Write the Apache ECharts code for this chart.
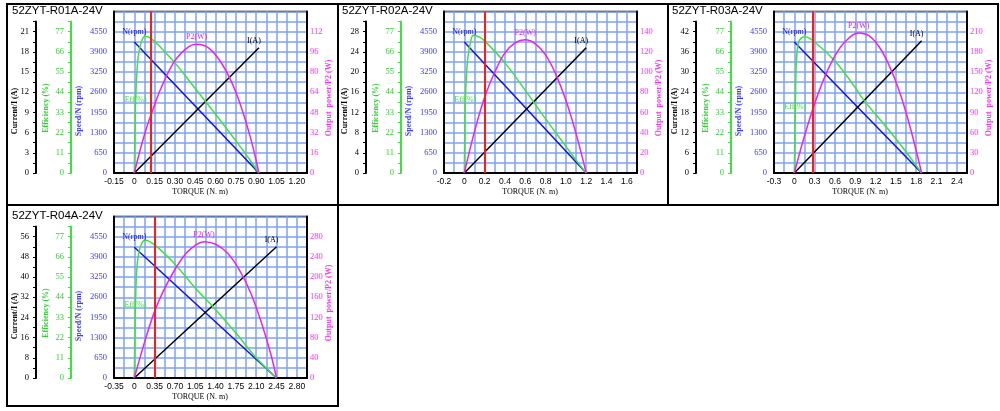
<!DOCTYPE html>
<html>
<head>
<meta charset="utf-8">
<title>52ZYT-24V motor curves</title>
<script src="https://cdn.jsdelivr.net/npm/echarts@6/dist/echarts.min.js"></script>
<style>
  html, body { margin: 0; padding: 0; background: #fff; }
  #page { position: relative; width: 1000px; height: 411px; overflow: hidden; }
  .box { position: absolute; box-sizing: border-box; border: 2px solid #000; }
  .chart { position: absolute; width: 340px; height: 206px; }
</style>
</head>
<body>
<div id="page">
  <div class="box" style="left:6px;top:3px;width:333px;height:203px"></div>
  <div class="box" style="left:337px;top:3px;width:332px;height:203px"></div>
  <div class="box" style="left:667px;top:3px;width:332px;height:203px"></div>
  <div class="box" style="left:6px;top:204px;width:333px;height:203px"></div>
  <div id="c0" class="chart" style="left:0;top:0"></div>
  <div id="c1" class="chart" style="left:330px;top:0"></div>
  <div id="c2" class="chart" style="left:660px;top:0"></div>
  <div id="c3" class="chart" style="left:0;top:205px"></div>
</div>
<script>
// values: [torque N.m, value]
const panelNames = ['52ZYT-R01A-24V', '52ZYT-R02A-24V', '52ZYT-R03A-24V', '52ZYT-R04A-24V'];
const torqueSteps = [0.15, 0.2, 0.3, 0.35];
const torqueDecimals = [2, 1, 1, 2];
const currentSteps = [3, 4, 6, 8];
const powerSteps = [16, 20, 30, 40];
const speedStep = 650;
const effStep = 11;
const ratedTorque = [0.115, 0.2, 0.27, 0.35];

const r01aSpeed = [[0, 4220], [0.92, 0]];
const r01aCurrent = [[0, 0], [0.92, 18.6]];
const r01aEff = [[0, 0], [0.005, 25], [0.01, 40], [0.02, 56], [0.03, 64], [0.05, 71], [0.08, 74.5], [0.12, 73.5],
  [0.2, 68], [0.3, 60], [0.45, 46], [0.6, 32], [0.75, 17.5], [0.85, 7.5], [0.92, 0]];
const r01aPower = [[0, 0], [0.05, 21], [0.1, 39], [0.15, 54], [0.2, 68], [0.3, 89], [0.4, 100], [0.46, 102],
  [0.55, 99], [0.65, 86], [0.75, 64], [0.85, 31], [0.92, 0]];

const r02aSpeed = [[0, 4220], [1.2, 0]];
const r02aCurrent = [[0, 0], [1.2, 24.8]];
const r02aEff = [[0, 0], [0.005, 25], [0.01, 40], [0.025, 57], [0.04, 65], [0.06, 71], [0.09, 75], [0.15, 74],
  [0.2, 72], [0.4, 60], [0.6, 45], [0.8, 29.5], [1.0, 14.5], [1.1, 7], [1.2, 0]];
const r02aPower = [[0, 0], [0.1, 41], [0.2, 75], [0.3, 100], [0.4, 119], [0.5, 129], [0.6, 132], [0.7, 128],
  [0.8, 117], [0.9, 98], [1.0, 72], [1.1, 39], [1.2, 0]];

const r03aSpeed = [[0, 4220], [1.88, 0]];
const r03aCurrent = [[0, 0], [1.88, 39.3]];
const r03aEff = [[0, 0], [0.008, 22], [0.015, 36], [0.03, 61], [0.06, 70.8], [0.1, 73.5], [0.15, 74.2], [0.3, 71.4],
  [0.6, 61], [0.9, 46.5], [1.02, 40], [1.2, 32], [1.47, 20], [1.67, 10.5], [1.88, 0]];
const r03aPower = [[0, 0], [0.15, 55], [0.3, 103], [0.45, 143], [0.6, 174], [0.75, 195], [0.95, 208], [1.1, 204],
  [1.25, 188], [1.4, 160], [1.55, 122], [1.7, 72], [1.88, 0]];

const r04aSpeed = [[0, 4210], [2.45, 0]];
const r04aCurrent = [[0, 0], [2.45, 52]];
const r04aEff = [[0, 0], [0.01, 25], [0.02, 40], [0.04, 58], [0.07, 67], [0.11, 72], [0.18, 75], [0.35, 72.5],
  [0.7, 62], [1.05, 49], [1.32, 40], [1.75, 24.5], [2.1, 11], [2.3, 4.5], [2.45, 0]];
const r04aPower = [[0, 0], [0.2, 80], [0.35, 132], [0.5, 172], [0.7, 215], [0.9, 248], [1.05, 263], [1.2, 270],
  [1.4, 265], [1.6, 248], [1.8, 216], [2.0, 170], [2.2, 106], [2.35, 48], [2.45, 0]];

const panelData = [
  { speed: r01aSpeed, current: r01aCurrent, eff: r01aEff, power: r01aPower },
  { speed: r02aSpeed, current: r02aCurrent, eff: r02aEff, power: r02aPower },
  { speed: r03aSpeed, current: r03aCurrent, eff: r03aEff, power: r03aPower },
  { speed: r04aSpeed, current: r04aCurrent, eff: r04aEff, power: r04aPower }
];

const COLORS = {
  grid: '#7ea2f6',
  speed: '#1212e6', speedText: '#3a3aff',
  current: '#000000',
  eff: '#3ee23e', effText: '#2fd42f',
  power: '#f01ef0', powerText: '#ff30ff',
  rated: '#ff1a1a'
};
const SERIF = '"Liberation Serif", "Times New Roman", serif';
const SANS = '"Liberation Sans", Arial, sans-serif';

// plot rectangle inside each chart box (px)
const PLOT = { left: 114, top: 11.5, width: 193, height: 161.5 };

/** label only on whole steps, up to `last` steps */
function stepLabel(step, last, decimals) {
  return function (v) {
    const k = Math.round(v / (step / 2));
    if (k % 2 !== 0 || k / 2 > last) return '';
    if (k === 0) return '0';
    return (k / 2 * step).toFixed(decimals);
  };
}

function labelStyle(color) {
  return { color: color, fontFamily: SERIF, fontSize: 8 };
}

function curve(data, yAxisIndex, color, labelIndex, text, labelOpts, smooth) {
  return {
    type: 'line',
    xAxisIndex: 0,
    yAxisIndex: yAxisIndex,
    showSymbol: true,
    symbol: 'circle',
    symbolSize: 0,
    smooth: smooth ? 0.4 : false,
    silent: true,
    lineStyle: { color: color, width: 1.5 },
    itemStyle: { color: color },
    emphasis: { disabled: true },
    data: data.map(function (p, j) {
      if (j !== labelIndex) return p;
      return {
        value: p,
        label: Object.assign({ show: true, formatter: text }, labelStyle(color), labelOpts)
      };
    })
  };
}

function rotatedText(x, y, text, color) {
  return {
    type: 'text', x: x, y: y, rotation: Math.PI / 2, silent: true,
    style: {
      text: text, fill: color, font: 'bold 8px ' + SERIF,
      align: 'center', verticalAlign: 'middle', textAlign: 'center', textVerticalAlign: 'middle'
    }
  };
}

function buildOption(i) {
  const tStep = torqueSteps[i];
  const cStep = currentSteps[i];
  const pStep = powerSteps[i];
  const d = panelData[i];
  const bottom = PLOT.top + PLOT.height;
  const axisTop = PLOT.top + PLOT.height / 16;
  const tickFont = { fontFamily: SERIF, fontSize: 8.5 };

  let peak = 0;
  d.power.forEach(function (p, j) { if (p[1] > d.power[peak][1]) peak = j; });

  const hiddenX = function (g) { return { gridIndex: g, type: 'value', show: false, min: 0, max: 1 }; };
  const sideAxis = function (g, max, interval, color, textColor) {
    return {
      gridIndex: g, type: 'value', position: 'left', min: 0, max: max, interval: interval,
      axisLine: { show: true, onZero: false, lineStyle: { color: color, width: 2 } },
      axisTick: { show: true, length: 3, lineStyle: { color: color, width: 1 } },
      splitLine: { show: false },
      axisLabel: Object.assign({ color: textColor, margin: 7, formatter: stepLabel(interval * 2, 7, 0) }, tickFont)
    };
  };

  return {
    animation: false,
    title: {
      text: panelNames[i], left: 12, top: 5, padding: 0,
      textStyle: { fontFamily: SANS, fontSize: 11.5, fontWeight: 'normal', color: '#000' }
    },
    grid: [
      { left: PLOT.left, top: PLOT.top, width: PLOT.width, height: PLOT.height, show: true,
        borderColor: '#000', borderWidth: 1.5, outerBoundsMode: 'none' },
      { left: 36, top: axisTop, width: 1, height: bottom - axisTop, outerBoundsMode: 'none' },
      { left: 71, top: axisTop, width: 1, height: bottom - axisTop, outerBoundsMode: 'none' }
    ],
    xAxis: [
      {
        gridIndex: 0, type: 'value', min: -tStep, max: 8.5 * tStep, interval: tStep / 2,
        axisLine: { show: true, onZero: false, lineStyle: { color: '#000', width: 2 } },
        axisTick: { show: false },
        splitLine: { show: true, lineStyle: { color: COLORS.grid, width: 1.5 } },
        axisLabel: { color: '#000', margin: 4, fontFamily: SANS, fontSize: 8.5,
          formatter: stepLabel(tStep, 8, torqueDecimals[i]) }
      },
      hiddenX(1),
      hiddenX(2)
    ],
    yAxis: [
      {
        gridIndex: 0, type: 'value', position: 'left', min: 0, max: 8 * speedStep, interval: speedStep / 2,
        axisLine: { show: true, onZero: false, lineStyle: { color: '#000', width: 2 } },
        axisTick: { show: false },
        splitLine: { show: true, lineStyle: { color: COLORS.grid, width: 1.5 } },
        axisLabel: Object.assign({ color: COLORS.speedText, margin: 7, formatter: stepLabel(speedStep, 7, 0) }, tickFont)
      },
      { gridIndex: 0, type: 'value', show: false, min: 0, max: 8 * cStep },
      { gridIndex: 0, type: 'value', show: false, min: 0, max: 8 * effStep },
      {
        gridIndex: 0, type: 'value', position: 'right', min: 0, max: 8 * pStep, interval: pStep / 2,
        axisLine: { show: true, onZero: false, lineStyle: { color: '#000', width: 2 } },
        axisTick: { show: false },
        splitLine: { show: false },
        axisLabel: Object.assign({ color: COLORS.powerText, margin: 3, formatter: stepLabel(pStep, 7, 0) }, tickFont)
      },
      sideAxis(1, 7.5 * cStep, cStep / 2, '#000', '#000'),
      sideAxis(2, 7.5 * effStep, effStep / 2, COLORS.eff, COLORS.effText)
    ],
    graphic: [
      rotatedText(14.5, 111, 'Current/I (A)', '#000'),
      rotatedText(45.5, 108, 'Efficiency (%)', COLORS.effText),
      rotatedText(79, 111, 'Speed/N (rpm)', COLORS.speedText),
      rotatedText(328.5, 98, 'Output  power/P2 (W)', COLORS.powerText),
      {
        type: 'text', x: 200, y: 192, silent: true,
        style: { text: 'TORQUE (N. m)', fill: '#000', font: '8px ' + SERIF,
          align: 'center', verticalAlign: 'middle', textAlign: 'center', textVerticalAlign: 'middle' }
      }
    ],
    series: [
      Object.assign(curve(d.speed, 0, COLORS.speed, 0, 'N(rpm)', { position: 'top', distance: 6 }, false), {
        markLine: {
          silent: true, symbol: ['none', 'none'], label: { show: false },
          lineStyle: { color: COLORS.rated, width: 2, type: 'solid' },
          data: [{ xAxis: ratedTorque[i] }]
        }
      }),
      curve(d.current, 1, COLORS.current, d.current.length - 1, 'I(A)', { position: 'top', distance: 3, offset: [-5, 0] }, false),
      curve(d.eff, 2, COLORS.eff, 2, 'Eff(%)', { position: 'inside' }, true),
      curve(d.power, 3, COLORS.power, peak, 'P2(W)', { position: 'top', distance: 3 }, true)
    ]
  };
}

const charts = [];
for (let i = 0; i < 4; i++) {
  const chart = echarts.init(document.getElementById('c' + i), null, { renderer: 'canvas' });
  chart.setOption(buildOption(i));
  charts.push(chart);
}
window.addEventListener('resize', function () {
  charts.forEach(function (c) { c.resize(); });
});
</script>
</body>
</html>
